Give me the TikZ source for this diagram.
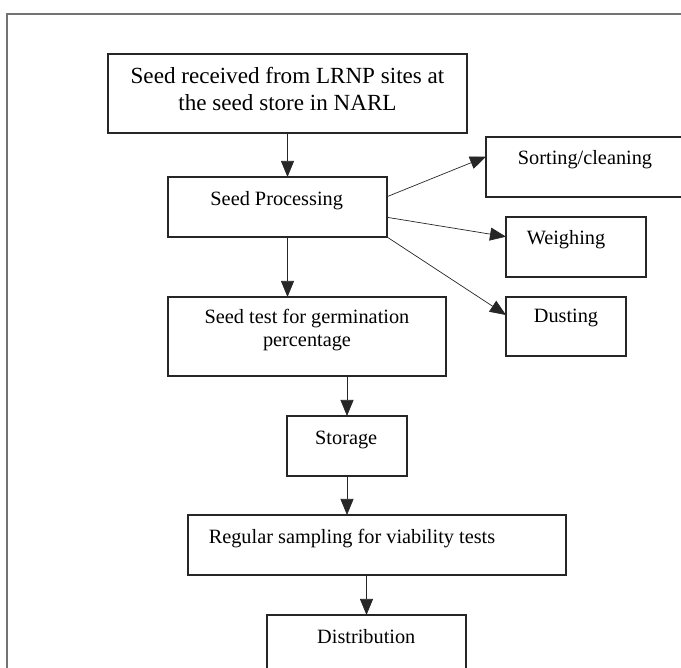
\documentclass[tikz,border=0pt]{standalone}
\usepackage{fontspec}
\setmainfont{Liberation Serif}
\usetikzlibrary{arrows.meta}
\begin{document}
\begin{tikzpicture}[x=1pt,y=-1pt,
  box/.style={draw=black!85, line width=1.1pt, rectangle, anchor=north west, inner sep=0pt, outer sep=0pt},
  txt/.style={anchor=base, inner sep=0pt, font=\fontsize{20.3}{22.5}\selectfont},
  bigtxt/.style={anchor=base, inner sep=0pt, font=\fontsize{23.1}{27}\selectfont},
  arr/.style={draw=black!85, line width=0.7pt, -{Triangle[length=16pt,width=13pt]}},
  frame/.style={draw=black!55, line width=1.6pt}]
\useasboundingbox (0,0) rectangle (681,668);
% outer frame
\coordinate (fA) at (7,700);
\coordinate (fB) at (7,14);
\coordinate (fC) at (700,14);
\draw[frame] (fA) -- (fB) -- (fC);
% boxes
\node[box, minimum width=359pt, minimum height=79pt] (top) at (108,54) {};
\node[box, minimum width=219pt, minimum height=60pt] (proc) at (168,177) {};
\node[box, minimum width=215pt, minimum height=60pt] (sort) at (486,137) {};
\node[box, minimum width=140pt, minimum height=60pt] (weigh) at (506,217) {};
\node[box, minimum width=120pt, minimum height=59pt] (dust) at (506,297) {};
\node[box, minimum width=278pt, minimum height=79pt] (test) at (168,297) {};
\node[box, minimum width=120pt, minimum height=60pt] (store) at (287,416) {};
\node[box, minimum width=378pt, minimum height=60pt] (samp) at (188,515) {};
\node[box, minimum width=199pt, minimum height=75pt] (dist) at (267,615) {};
% texts
\node[bigtxt] (topT1) at (287.5,84) {Seed received from LRNP sites at};
\node[bigtxt] (topT2) at (287.5,111) {the seed store in NARL};
\node[txt] (procT) at (276.7,206) {Seed Processing};
\node[txt] (sortT) at (585,165) {Sorting/cleaning};
\node[txt] (weighT) at (566,245) {Weighing};
\node[txt] (dustT) at (566,323) {Dusting};
\node[txt] (testT1) at (307,324) {Seed test for germination};
\node[txt] (testT2) at (307,346.5) {percentage};
\node[txt] (storeT) at (346.2,445) {Storage};
\node[txt] (sampT) at (352,543.3) {Regular sampling for viability tests};
\node[txt] (distT) at (366.3,643.3) {Distribution};
% connectors
\draw[arr] (top.south) -- (proc.north -| top.south);
\draw[arr] (proc.south -| top.south) -- (test.north -| top.south);
\draw[arr] (test.south -| store.north) -- (store.north);
\draw[arr] (store.south) -- (samp.north -| store.south);
\draw[arr] (samp.south -| dist.north) -- (dist.north);
\draw[arr] ([yshift=-19.7pt]proc.north east) -- ([yshift=-19.7pt]sort.north west);
\draw[arr] ([yshift=-40.3pt]proc.north east) -- ([yshift=-19.7pt]weigh.north west);
\draw[arr] (proc.south east) -- ([yshift=-18pt]dust.north west);
\end{tikzpicture}
\end{document}
